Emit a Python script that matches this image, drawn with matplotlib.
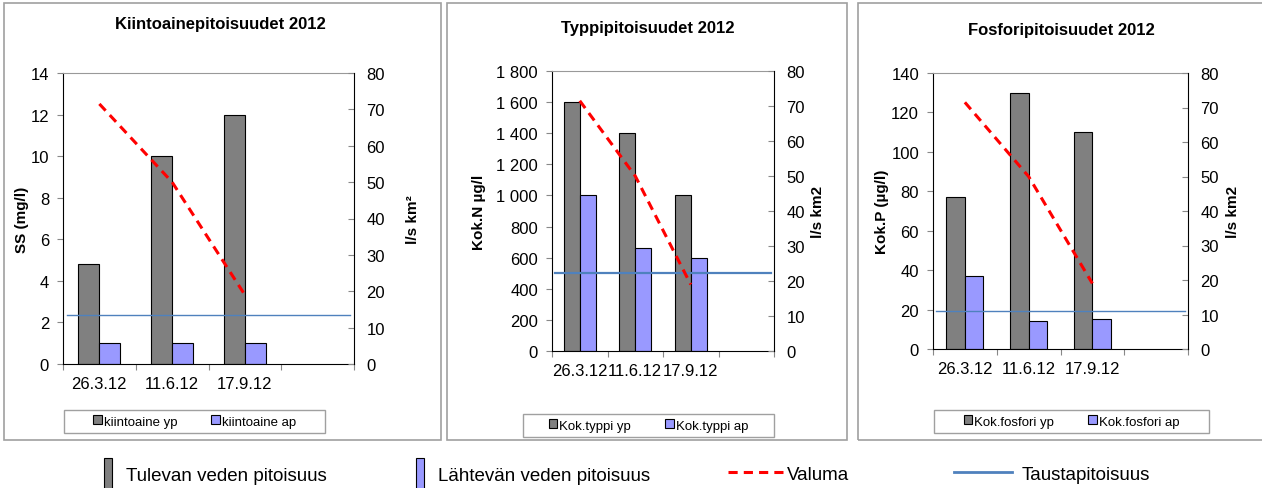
import matplotlib
matplotlib.use("Agg")
import matplotlib.pyplot as plt
from matplotlib.patches import Rectangle, Patch
from matplotlib.lines import Line2D
from matplotlib.ticker import FuncFormatter
import numpy as np

plt.rcParams['font.family'] = ['Liberation Sans', 'DejaVu Sans']

# data
dates = ["26.3.12", "11.6.12", "17.9.12", ""]
valuma = [71.5, 50, 19]

ss_yp = [4.8, 10, 12]
ss_ap = [1, 1, 1]
ss_tausta = 2.37

n_yp = [1600, 1400, 1000]
n_ap = [1000, 660, 600]
n_tausta = 500

p_yp = [77, 130, 110]
p_ap = [37, 14, 15]
p_tausta = 19.5

W, H = 1262, 489
fig = plt.figure(figsize=(W / 100, H / 100), dpi=100)

GRAY = "#808080"
BLUE = "#9999FF"
RED = "#FF0000"
TAUSTA = "#4F81BD"


def fx(px):
    return px / W


def fy(py):
    return 1 - py / H


# panel frames
for x0, x1 in [(4, 441), (447, 847), (858, 1266)]:
    fig.patches.append(Rectangle((fx(x0), fy(441)), fx(x1 - x0), (441 - 4) / H,
                                 transform=fig.transFigure, fill=False,
                                 edgecolor="#A0A0A0", linewidth=1.2))

panels = [
    dict(box=(63, 354, 74, 365), yp=ss_yp, ap=ss_ap, tausta=ss_tausta, ylim=14, ystep=2,
         title="Kiintoainepitoisuudet 2012", title_xy=(220, 24),
         ylabel="SS (mg/l)", ylab_x=22, rlabel="l/s km²", rlab_x=413,
         leg=("kiintoaine yp", "kiintoaine ap"), legbox=(64, 325, 411, 434), tlw=1.0, fmt=False),
    dict(box=(552, 774, 72, 352), yp=n_yp, ap=n_ap, tausta=n_tausta, ylim=1800, ystep=200,
         title="Typpipitoisuudet 2012", title_xy=(648, 29),
         ylabel="Kok.N µg/l", ylab_x=479, rlabel="l/s km2", rlab_x=818,
         leg=("Kok.typpi yp", "Kok.typpi ap"), legbox=(523, 774, 415, 438), tlw=1.6, fmt=True),
    dict(box=(933, 1188, 74, 350), yp=p_yp, ap=p_ap, tausta=p_tausta, ylim=140, ystep=20,
         title="Fosforipitoisuudet 2012", title_xy=(1061, 31),
         ylabel="Kok.P (µg/l)", ylab_x=882, rlabel="l/s km2", rlab_x=1233,
         leg=("Kok.fosfori yp", "Kok.fosfori ap"), legbox=(934, 1209, 411, 434), tlw=1.0, fmt=False),
]

x = np.arange(len(dates))
bw = 0.29

for p in panels:
    l, r, t, b = p["box"]
    ax = fig.add_axes([fx(l), fy(b), fx(r - l), (b - t) / H])
    n = len(p["yp"])
    b1 = ax.bar(x[:n] - bw / 2, p["yp"], bw, color=GRAY, edgecolor="black", linewidth=0.8, zorder=2)
    b2 = ax.bar(x[:n] + bw / 2, p["ap"], bw, color=BLUE, edgecolor="black", linewidth=0.8, zorder=2)
    ax.plot([-0.45, 3.45], [p["tausta"]] * 2, color=TAUSTA, lw=p["tlw"], zorder=3)
    ax.set_xlim(-0.5, 3.5)
    ax.set_ylim(0, p["ylim"])
    ax.set_yticks(np.arange(0, p["ylim"] + 1, p["ystep"]))
    if p["fmt"]:
        ax.yaxis.set_major_formatter(FuncFormatter(lambda v, pos: f"{int(v):,}".replace(",", " ")))
    ax.set_xticks(np.arange(-0.5, 3.6, 1))
    ax.set_xticklabels([])
    ax.set_xticks(x, labels=dates, minor=True)
    ax.tick_params(axis="x", which="major", direction="out", length=4, color="#888888")
    ax.tick_params(axis="x", which="minor", length=0, labelsize=12, pad=9)
    ax.tick_params(axis="y", direction="out", length=4, color="#888888", labelsize=12, pad=6)
    ax.spines["top"].set_color("#999999")
    for s in ["left", "bottom"]:
        ax.spines[s].set_color("black")
    ax.spines["right"].set_visible(False)

    ax2 = ax.twinx()
    ax2.plot(x[:3], valuma, color=RED, lw=2.2, dashes=(3, 2), zorder=4)
    ax2.set_ylim(0, 80)
    ax2.set_yticks(np.arange(0, 81, 10))
    ax2.tick_params(axis="y", direction="in", length=4, color="#888888", labelsize=12, pad=9)
    ax2.tick_params(axis="y", which="both", right=True, left=False)
    ax2.spines["right"].set_color("black")
    ax2.spines["top"].set_visible(False)
    ax2.spines["left"].set_visible(False)
    ax2.spines["bottom"].set_visible(False)
    ax2.set_xlim(-0.5, 3.5)

    fig.text(fx(p["title_xy"][0]), fy(p["title_xy"][1]), p["title"], ha="center", va="center",
             fontsize=12, fontweight="bold")
    fig.text(fx(p["ylab_x"]), fy((t + b) / 2), p["ylabel"], rotation=90, ha="center", va="center",
             fontsize=11, fontweight="bold")
    fig.text(fx(p["rlab_x"]), fy((t + b) / 2), p["rlabel"], rotation=90, ha="center", va="center",
             fontsize=11, fontweight="bold")

    lx0, lx1, ly0, ly1 = p["legbox"]
    fig.patches.append(Rectangle((fx(lx0), fy(ly1)), fx(lx1 - lx0), (ly1 - ly0) / H,
                                 transform=fig.transFigure, fill=False,
                                 edgecolor="#A0A0A0", linewidth=1.0))
    fig.legend([b1, b2], list(p["leg"]), loc="center", ncol=2,
               bbox_to_anchor=(fx((lx0 + lx1) / 2), fy((ly0 + ly1) / 2)),
               fontsize=9.5, frameon=False,
               handlelength=0.65, handleheight=0.65, handletextpad=0.15,
               columnspacing=2.6, borderpad=0, borderaxespad=0)

# bottom legend
bottom_items = [
    (Patch(facecolor=GRAY, edgecolor="black", linewidth=0.8), "Tulevan veden pitoisuus", 104, 0.45, 2.2, 0.7),
    (Patch(facecolor=BLUE, edgecolor="black", linewidth=0.8), "Lähtevän veden pitoisuus", 416, 0.45, 2.2, 0.7),
    (Line2D([], [], color=RED, lw=2.2, dashes=(3, 2)), "Valuma", 728, 3.1, 0.7, 0.05),
    (Line2D([], [], color=TAUSTA, lw=2), "Taustapitoisuus", 954, 3.1, 0.7, 0.5),
]
for h, lab, px, hl, hh, tp in bottom_items:
    fig.legend([h], [lab], loc="center left", bbox_to_anchor=(fx(px), fy(475)),
               frameon=False, fontsize=13.5, handlelength=hl, handleheight=hh,
               handletextpad=tp, borderpad=0, borderaxespad=0)

fig.savefig("out.png", dpi=100)
